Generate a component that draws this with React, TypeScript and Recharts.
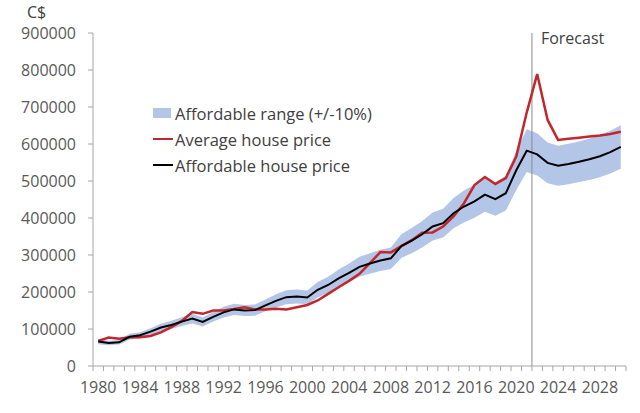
import { ComposedChart, Area, Line, XAxis, YAxis, ReferenceLine } from "recharts";

// values in thousands of C$
const years = [
  1980, 1981, 1982, 1983, 1984, 1985, 1986, 1987, 1988, 1989,
  1990, 1991, 1992, 1993, 1994, 1995, 1996, 1997, 1998, 1999,
  2000, 2001, 2002, 2003, 2004, 2005, 2006, 2007, 2008, 2009,
  2010, 2011, 2012, 2013, 2014, 2015, 2016, 2017, 2018, 2019,
  2020, 2021, 2022, 2023, 2024, 2025, 2026, 2027, 2028, 2029, 2030,
];

const averagePrice = [
  68, 77, 74, 78, 78, 81, 91, 105, 122, 146,
  141, 150, 150, 154, 159, 153, 153, 155, 153, 159,
  165, 177, 195, 213, 230, 249, 278, 308, 307, 324,
  340, 360, 361, 377, 404, 440, 489, 511, 492, 508,
  566, 685, 789, 665, 611, 614, 617, 620, 623, 627, 633,
];

const affordablePrice = [
  66, 62, 64, 79, 83, 93, 104, 111, 120, 128,
  119, 133, 145, 153, 150, 151, 164, 176, 186, 188,
  185, 206, 219, 237, 252, 268, 277, 285, 291, 324,
  339, 356, 377, 386, 413, 431, 445, 463, 451, 467,
  529, 582, 572, 549, 541, 546, 552, 559, 567, 578, 592,
];

const rangeLow = [
  59, 56, 58, 71, 75, 84, 94, 100, 108, 115,
  107, 120, 131, 138, 135, 136, 148, 158, 167, 169,
  167, 185, 197, 213, 227, 241, 249, 257, 262, 292,
  305, 320, 339, 347, 372, 388, 401, 417, 406, 420,
  476, 524, 515, 494, 487, 491, 497, 503, 510, 520, 533,
];

const rangeHigh = [
  73, 68, 70, 87, 91, 102, 114, 122, 132, 141,
  131, 146, 160, 168, 165, 166, 180, 194, 205, 207,
  204, 227, 241, 261, 277, 295, 305, 314, 320, 356,
  373, 392, 415, 425, 454, 474, 490, 509, 496, 514,
  582, 640, 629, 604, 595, 601, 607, 615, 624, 636, 651,
];

const yTicks = [0, 100000, 200000, 300000, 400000, 500000, 600000, 700000, 800000, 900000];
const yearLabels = [1980, 1984, 1988, 1992, 1996, 2000, 2004, 2008, 2012, 2016, 2020, 2024, 2028];
const forecastStart = 2021.5;

const FONT = "'Open Sans', 'Noto Sans', sans-serif";
const AXIS = "#a6a6a6";
const RED = "#c1272d";
const BAND = "#b4c6e7";

const data = years.map((year, i) => ({
  year,
  average: averagePrice[i] * 1000,
  affordable: affordablePrice[i] * 1000,
  range: [rangeLow[i] * 1000, rangeHigh[i] * 1000],
}));

// tick marks sit between categories, labels in the middle of a category
const boundaries = years.map((y) => y - 0.5).concat(years[years.length - 1] + 0.5);
const xTicks = [...boundaries, ...yearLabels].sort((a, b) => a - b);

function YearTick(props: any) {
  const { x, y, payload } = props;
  if (Number.isInteger(payload.value)) {
    return (
      <text x={x} y={y + 27} textAnchor="middle" fill="#595959" fontSize={16} fontFamily={FONT}>
        {payload.value}
      </text>
    );
  }
  return <line x1={x} x2={x} y1={y} y2={y + 5} stroke={AXIS} />;
}

function ForecastLabel(props: any) {
  const { viewBox } = props;
  return (
    <text x={viewBox.x + 9} y={viewBox.y + 11} fill="#404040" fontSize={16} fontFamily={FONT}>
      Forecast
    </text>
  );
}

const legendItems = [
  { label: "Affordable range (+/-10%)", kind: "box", color: BAND },
  { label: "Average house price", kind: "line", color: RED },
  { label: "Affordable house price", kind: "line", color: "#000000" },
];

export default function App() {
  return (
    <div style={{ position: "absolute", left: 0, top: 0, width: 640, height: 413, background: "#fff", fontFamily: FONT }}>
      <ComposedChart width={640} height={413} data={data} margin={{ top: 33, right: 14, left: 8, bottom: 17 }}>
        <XAxis
          dataKey="year"
          type="number"
          domain={[1979.5, 2030.5]}
          ticks={xTicks}
          interval={0}
          tickLine={false}
          tickSize={0}
          tickMargin={0}
          tick={<YearTick />}
          axisLine={{ stroke: AXIS }}
          height={30}
        />
        <YAxis
          type="number"
          domain={[0, 900000]}
          ticks={yTicks}
          interval={0}
          width={85}
          tickSize={5}
          tickMargin={12}
          tickLine={{ stroke: AXIS }}
          axisLine={{ stroke: AXIS }}
          tick={{ fill: "#595959", fontSize: 16, fontFamily: FONT }}
        />
        <Area
          dataKey="range"
          type="linear"
          stroke="none"
          fill={BAND}
          fillOpacity={1}
          isAnimationActive={false}
        />
        <ReferenceLine x={forecastStart} stroke="#8c8c8c" strokeWidth={1} label={<ForecastLabel />} />
        <Line dataKey="average" type="linear" stroke={RED} strokeWidth={2.5} dot={false} isAnimationActive={false} />
        <Line dataKey="affordable" type="linear" stroke="#000" strokeWidth={2} dot={false} isAnimationActive={false} />
      </ComposedChart>

      <div style={{ position: "absolute", left: 27, top: 4, fontSize: 16, lineHeight: "16px", color: "#404040" }}>C$</div>

      <div style={{ position: "absolute", left: 153, top: 100 }}>
        {legendItems.map((item) => (
          <div key={item.label} style={{ display: "flex", alignItems: "center", height: 26, fontSize: 16.5, color: "#404040" }}>
            {item.kind === "box" ? (
              <span style={{ display: "inline-block", width: 18, height: 10, background: item.color, marginRight: 4 }} />
            ) : (
              <span style={{ display: "inline-block", width: 20, height: 2.5, background: item.color, marginRight: 2 }} />
            )}
            <span>{item.label}</span>
          </div>
        ))}
      </div>
    </div>
  );
}
